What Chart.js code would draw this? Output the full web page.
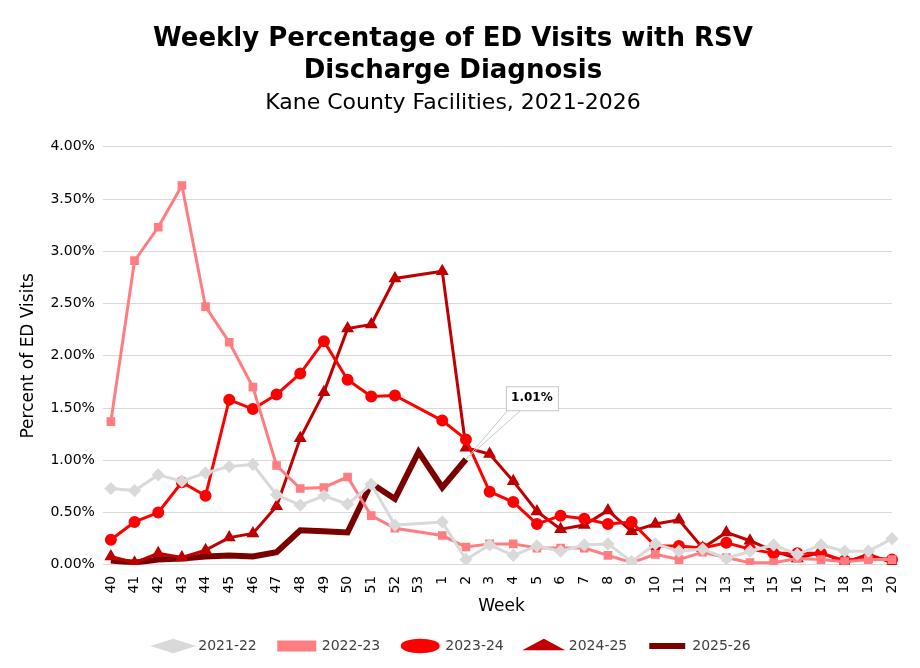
<!DOCTYPE html><html><head><script src="https://cdn.jsdelivr.net/npm/chart.js@4"></script>
<style>body{margin:0;background:#fff}#w{width:920px;height:668px}</style></head><body><div id="w"><canvas id="c"></canvas></div>
<script>
const weeks=['40','41','42','43','44','45','46','47','48','49','50','51','52','53','1','2','3','4','5','6','7','8','9','10','11','12','13','14','15','16','17','18','19','20'];
const s2122=[.73,.71,.86,.80,.88,.94,.96,.67,.57,.66,.58,.77,.38,null,.41,.05,.19,.09,.18,.13,.19,.20,.03,.20,.13,.15,.06,.13,.19,.10,.19,.13,.13,.25];
const s2223=[1.37,2.91,3.23,3.63,2.47,2.13,1.70,.95,.73,.74,.84,.47,.35,null,.28,.17,.20,.20,.16,.16,.16,.09,.02,.10,.05,.12,.07,.02,.02,.06,.05,.03,.05,.05];
const s2324=[.24,.41,.50,.79,.66,1.58,1.49,1.63,1.83,2.14,1.77,1.61,1.62,null,1.38,1.20,.70,.60,.39,.47,.44,.39,.41,.18,.18,.16,.21,.15,.11,.11,.11,.04,.07,.05];
const s2425=[.08,.02,.11,.07,.14,.26,.30,.56,1.21,1.65,2.26,2.30,2.74,null,2.81,1.12,1.06,.80,.51,.34,.38,.52,.32,.39,.43,.16,.31,.23,.13,.06,.12,.02,.10,.02];
const s2526=[.04,.02,.05,.06,.08,.09,.08,.12,.33,.32,.31,.78,.63,1.08,.74,1.01];
const F='"DejaVu Sans"';
const ann={id:'ann',afterDatasetsDraw(ch){const m=ch.getDatasetMeta(4).data[15];const c=ch.ctx;c.save();
c.strokeStyle='#c8c8c8';c.lineWidth=1;c.beginPath();c.moveTo(m.x,m.y);c.lineTo(m.x+42,m.y-49);c.moveTo(m.x,m.y);c.lineTo(m.x+55,m.y-49);c.stroke();
c.fillStyle='#fff';c.fillRect(m.x+40,m.y-73,52,24);c.strokeRect(m.x+40.5,m.y-72.5,52,24);
c.fillStyle='#000';c.font='bold 12px '+F;c.textAlign='center';c.textBaseline='middle';c.fillText('1.01%',m.x+66,m.y-61);c.restore();}};
function ds(l,d,col,ps,r,w){return{label:l,data:d,borderColor:col,backgroundColor:col,pointStyle:ps,pointRadius:r,pointHoverRadius:r,borderWidth:w,spanGaps:true,tension:0};}
new Chart(document.getElementById('c'),{type:'line',data:{labels:weeks,datasets:[
ds('2021-22',s2122,'#d9d9d9','rectRot',4.5,3),
ds('2022-23',s2223,'#ff7c80','rect',4,3),
ds('2023-24',s2324,'#ff0000','circle',4.5,3),
ds('2024-25',s2425,'#c00000','triangle',4.5,3),
ds('2025-26',s2526,'#7b0000','line',0,6)]},
options:{responsive:true,maintainAspectRatio:false,animation:false,
layout:{padding:{left:14,right:28,top:16,bottom:5}},
plugins:{title:{display:true,text:['Weekly Percentage of ED Visits with RSV','Discharge Diagnosis'],font:{family:F,size:26,weight:'bold'},color:'#000',padding:{top:8,bottom:0}},
subtitle:{display:true,text:'Kane County Facilities, 2021-2026',font:{family:F,size:22},color:'#000',padding:{top:4,bottom:30}},
legend:{position:'bottom',labels:{usePointStyle:true,pointStyleWidth:36,boxHeight:8,font:{family:F,size:14},color:'#404040',padding:22}},tooltip:{enabled:false}},
scales:{x:{title:{display:true,text:'Week',font:{family:F,size:17},color:'#000',padding:0},grid:{display:false},border:{color:'#d9d9d9'},
ticks:{font:{family:F,size:14},color:'#000',maxRotation:90,minRotation:90,autoSkip:false}},
y:{min:0,max:4,title:{display:true,text:'Percent of ED Visits',font:{family:F,size:17},color:'#000'},grid:{color:'#d9d9d9'},border:{display:false},
ticks:{stepSize:.5,font:{family:F,size:14},color:'#000',padding:8,callback:v=>v.toFixed(2)+'%'}}}},plugins:[ann]});
</script></body></html>
